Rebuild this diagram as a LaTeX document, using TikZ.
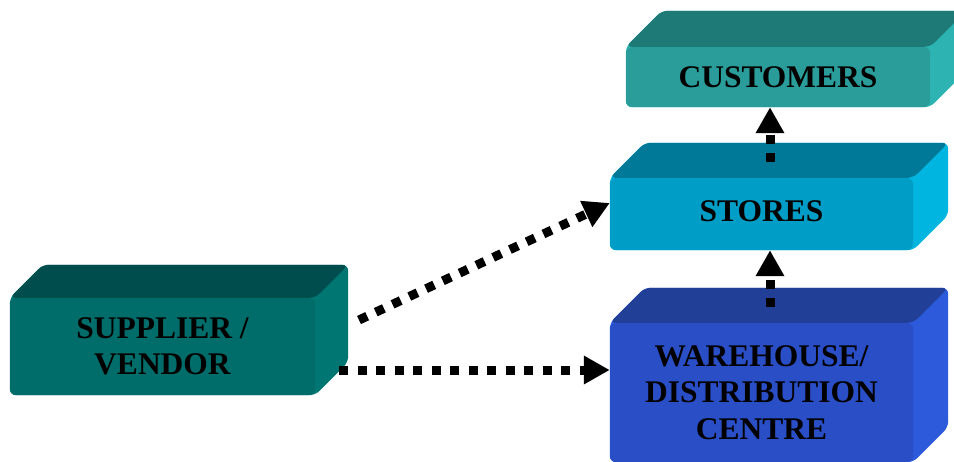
\documentclass[tikz,border=0pt]{standalone}
\usepackage{fontspec}
\setmainfont{Liberation Serif}
\usetikzlibrary{arrows.meta,calc,backgrounds}

\definecolor{supFront}{HTML}{006D6A}
\definecolor{supTop}{HTML}{004D4D}
\definecolor{supSide}{HTML}{007672}
\definecolor{cusFront}{HTML}{2A9D9B}
\definecolor{cusTop}{HTML}{1E7A77}
\definecolor{cusSide}{HTML}{2DB4B2}
\definecolor{stoFront}{HTML}{009EC6}
\definecolor{stoTop}{HTML}{007898}
\definecolor{stoSide}{HTML}{00B5E0}
\definecolor{wahFront}{HTML}{2A4EC6}
\definecolor{wahTop}{HTML}{223F98}
\definecolor{wahSide}{HTML}{2C5ADB}

% top and right faces of a block, drawn behind its front face
% #1 node, #2 top colour, #3 side colour, #4 depth
\newcommand\blocksides[4]{%
  \begin{scope}[on background layer]
    \fill[#3, rounded corners=6pt] (#1.south west) -- (#1.north west) -- ++(#4,-#4)
      -- ($(#1.north east)+(#4,-#4)$) -- ($(#1.south east)+(#4,-#4)$)
      -- (#1.south east) -- cycle;
    \fill[#2, rounded corners=6pt] (#1.north west) -- ++(#4,-#4)
      -- ($(#1.north east)+(#4,-#4)$) -- (#1.north east) -- cycle;
  \end{scope}}

\begin{document}
\begin{tikzpicture}[x=1pt,y=-1pt,
  block/.style={rounded corners=6pt, inner sep=0pt, align=center,
    font=\fontsize{31.5}{36.5}\selectfont\bfseries},
  flow/.style={line width=9pt, dash pattern=on 9pt off 9.5pt,
    -{Triangle[length=26pt,width=27pt]}}]
\useasboundingbox (0,0) rectangle (954,461);

% front faces
\node[block, fill=supFront, minimum width=305pt, minimum height=97pt]
  (supplier) at (162.5,346.5) {SUPPLIER /\\VENDOR};
\node[block, fill=cusFront, minimum width=304pt, minimum height=60pt]
  (customers) at (778,77) {CUSTOMERS};
\node[block, fill=stoFront, minimum width=303pt, minimum height=72pt]
  (stores) at (761.5,214) {\raisebox{6pt}{STORES}};
\node[block, fill=wahFront, minimum width=303pt, minimum height=139pt]
  (warehouse) at (761.5,392.5) {WAREHOUSE/\\DISTRIBUTION\\CENTRE};

\blocksides{supplier}{supTop}{supSide}{33}
\blocksides{customers}{cusTop}{cusSide}{36}
\blocksides{stores}{stoTop}{stoSide}{35}
\blocksides{warehouse}{wahTop}{wahSide}{35}

% flows
\coordinate (h0) at (339,370);
\coordinate (d0) at (359,320);
\coordinate (v1) at (770,162);
\coordinate (v2) at (770,307);
\draw[flow] (h0) -- (h0 -| warehouse.west);
\draw[flow] (d0) -- ([yshift=11pt]stores.west);
\draw[flow] (v1) -- (v1 |- customers.south);
\draw[flow] (v2) -- (v2 |- stores.south);
\end{tikzpicture}
\end{document}
